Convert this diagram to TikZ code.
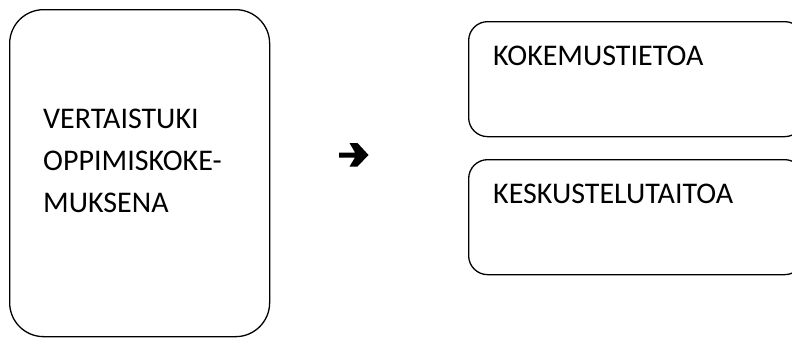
\documentclass[tikz,border=0pt]{standalone}
\usepackage{fontspec}
\setmainfont{Carlito}
\begin{document}
\begin{tikzpicture}[x=1pt,y=-1pt,
  box/.style={draw, line width=1.3pt, anchor=north west, inner sep=0pt},
  label/.style={anchor=base west, inner sep=0pt, font=\fontsize{30}{42}\selectfont, align=left}]
\useasboundingbox (0,0) rectangle (792,338);
\clip (0,0) rectangle (792,338);
% tall box on the left
\node[box, rounded corners=34pt, minimum width=260pt, minimum height=327pt] (peer) at (9,9) {};
% anchored at the baseline of the last line
\node[label] (peertext) at (43,212) {VERTAISTUKI\\OPPIMISKOKE-\\MUKSENA};
% the two outcome boxes, running past the right edge
\node[box, rounded corners=19pt, minimum width=335pt, minimum height=115pt] (exp) at (468,21) {};
\node[label] (exptext) at (493,65) {KOKEMUSTIETOA};
\node[box, rounded corners=19pt, minimum width=335pt, minimum height=115pt] (talk) at (468,159) {};
\node[label] (talktext) at (493,203) {KESKUSTELUTAITOA};
% heavy arrow between them
\fill (339,152.5) -- (355,152.5) -- (349.5,143) -- (357.5,143) -- (368.5,155)
  -- (357.5,166.5) -- (349.5,166.5) -- (355,157.5) -- (339,157.5) -- cycle;
\end{tikzpicture}
\end{document}
